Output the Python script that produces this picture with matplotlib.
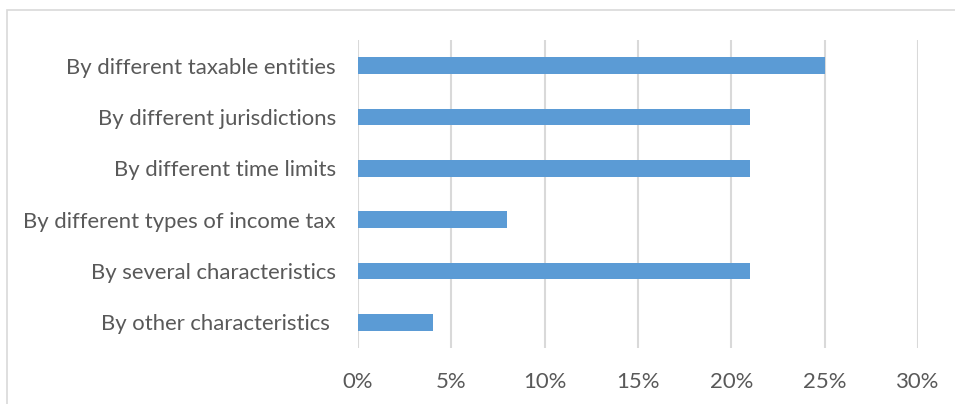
import matplotlib.pyplot as plt
from matplotlib.patches import Rectangle
from matplotlib.ticker import FuncFormatter

# Data
categories = [
    "By different taxable entities",
    "By different jurisdictions",
    "By different time limits",
    "By different types of income tax",
    "By several characteristics",
    "By other characteristics ",
]
values = [25, 21, 21, 8, 21, 4]
x_ticks = [0, 5, 10, 15, 20, 25, 30]

plt.rcParams['font.family'] = ['Lato', 'DejaVu Sans']

fig = plt.figure(figsize=(9.55, 4.04), dpi=100)
ax = fig.add_axes([358 / 955, 1 - 348 / 404, 560 / 955, 308 / 404])

# light border around the chart area
fig.patches.append(Rectangle((7 / 955, -0.1), 1.2, 1 - 10 / 404 + 0.1,
                             transform=fig.transFigure, fill=False,
                             edgecolor='#d9d9d9', linewidth=1.2))

ypos = list(range(len(categories)))
ax.barh(ypos, values, height=0.33, color='#5b9bd5', zorder=3)
ax.set_yticks(ypos)
ax.set_yticklabels(categories)
ax.set_ylim(len(categories) - 0.5, -0.5)

ax.set_xlim(0, 30)
ax.set_xticks(x_ticks)
ax.xaxis.set_major_formatter(FuncFormatter(lambda v, p: f"{v:.0f}%"))
ax.grid(axis='x', color='#d9d9d9', linewidth=1.5, zorder=0)

for s in ax.spines.values():
    s.set_visible(False)
ax.tick_params(axis='both', length=0, labelsize=15.9, colors='#595959')
ax.tick_params(axis='y', pad=16)
ax.tick_params(axis='x', pad=17)

fig.savefig("out.png", dpi=100)
